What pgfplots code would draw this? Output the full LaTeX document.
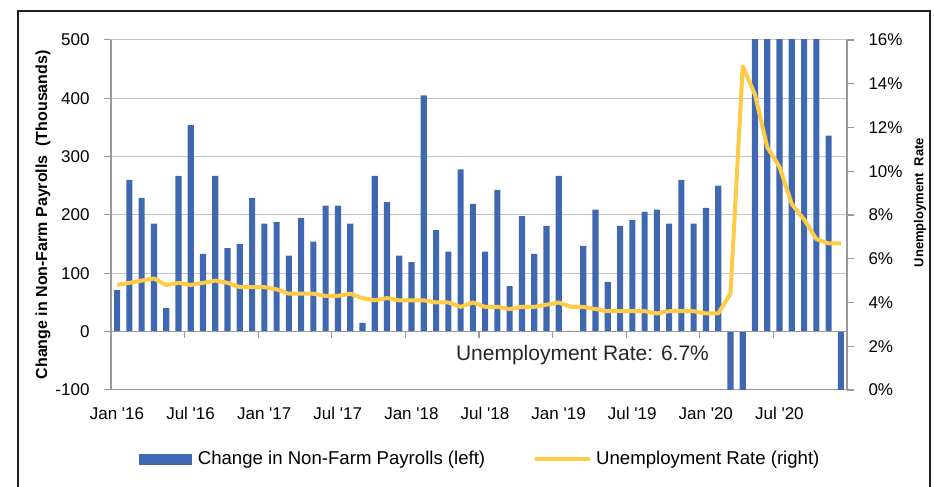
\documentclass[border=0pt]{standalone}
\usepackage{pgfplots}
\usepackage{pgfplotstable}
\pgfplotsset{compat=1.18}
\usepackage{fontspec}
\setmainfont{Liberation Sans}
\definecolor{barblue}{HTML}{4068B2}
\definecolor{uryellow}{HTML}{FFCB45}
\definecolor{gridgray}{HTML}{C4C4C4}
\definecolor{axgray}{HTML}{9A9A9A}

\pgfplotstableread{
x nfp ur
0 71 4.8
1 260 4.9
2 229 5.0
3 185 5.1
4 40 4.8
5 267 4.9
6 354 4.8
7 133 4.9
8 267 5.0
9 143 4.9
10 150 4.7
11 229 4.7
12 185 4.7
13 188 4.6
14 130 4.4
15 195 4.4
16 154 4.4
17 216 4.3
18 216 4.3
19 185 4.4
20 15 4.2
21 267 4.1
22 222 4.2
23 130 4.1
24 119 4.1
25 405 4.1
26 174 4.0
27 137 4.0
28 278 3.8
29 219 4.0
30 137 3.8
31 243 3.8
32 78 3.7
33 198 3.8
34 133 3.8
35 181 3.9
36 267 4.0
37 1 3.8
38 147 3.8
39 209 3.7
40 85 3.6
41 181 3.6
42 191 3.6
43 205 3.6
44 209 3.5
45 185 3.6
46 260 3.6
47 185 3.6
48 212 3.5
49 250 3.5
50 -701 4.4
51 -20787 14.8
52 2725 13.5
53 4781 11.1
54 1761 10.2
55 1493 8.5
56 711 7.8
57 638 6.9
58 336 6.7
59 -140 6.7
}\datatable

\newcommand{\q}{\textquotesingle}
\begin{document}
\begin{tikzpicture}[x=1pt,y=1pt]
\useasboundingbox (0,0) rectangle (934,487);
\draw[line width=2pt, color=black!88] (18,-5) -- (18,476) -- (930,476) -- (930,-5);
\begin{axis}[
  at={(111pt,97pt)}, anchor=south west, scale only axis,
  width=736pt, height=350pt,
  xmin=-0.5, xmax=59.5, ymin=-100, ymax=500,
  axis x line*=bottom, axis y line*=left,
  axis line style={axgray, line width=1.2pt},
  xtick={-0.5,5.5,11.5,17.5,23.5,29.5,35.5,41.5,47.5,53.5},
  xticklabels={Jan \q16,Jul \q16,Jan \q17,Jul \q17,Jan \q18,Jul \q18,Jan \q19,Jul \q19,Jan \q20,Jul \q20},
  xtick style={draw=none},
  xticklabel style={xshift=6pt, yshift=-7pt},
  ytick={-100,0,100,200,300,400,500},
  ytick style={axgray, line width=1.2pt},
  tick align=outside, major tick length=7pt,
  yticklabel style={xshift=-11pt},
  ymajorgrids, grid style={gridgray, line width=1pt},
  /pgf/number format/assume math mode=true,
  ticklabel style={font=\fontsize{17}{17}\selectfont, color=black},
  ylabel={Change in Non-Farm Payrolls\ \ (Thousands)},
  ylabel style={at={(axis description cs:-0.0924,0.5)}, anchor=center, font=\fontsize{16}{16}\selectfont\bfseries},
  legend style={at={(axis description cs:0.502,-0.197)}, anchor=center, draw=none, fill=none,
    font=\fontsize{18.6}{18.6}\selectfont, legend columns=-1,
    /tikz/every even column/.append style={column sep=46pt}},
]
\addplot[ybar, bar width=0.5, fill=barblue, draw=none, forget plot] table[x=x,y=nfp]{\datatable};
\draw[axgray, line width=1.3pt] (axis cs:-0.5,0) -- (axis cs:59.5,0);
\pgfplotsinvokeforeach{5.5,11.5,17.5,23.5,29.5,35.5,41.5,47.5,53.5}{
  \draw[axgray, line width=1.2pt] (axis cs:#1,0) -- ++(0pt,-6pt);
}
\addlegendimage{legend image code/.code={\fill[barblue] (0pt,-5pt) rectangle (52pt,5pt); \path (56pt,0pt);}}
\addlegendentry{Change in Non-Farm Payrolls (left)}
\addlegendimage{legend image code/.code={\draw[uryellow, line width=3.5pt] (0pt,0pt) -- (55pt,0pt); \path (59pt,0pt);}}
\addlegendentry{Unemployment Rate (right)}
\node[font=\fontsize{21}{21}\selectfont, color=black!85] at (axis description cs:0.6406,0.098) {Unemployment Rate: 6.7\%};
\end{axis}
\begin{axis}[
  at={(111pt,97pt)}, anchor=south west, scale only axis,
  width=736pt, height=350pt,
  xmin=-0.5, xmax=59.5, ymin=0, ymax=16,
  axis x line=none, axis y line*=right,
  axis line style={axgray, line width=1.2pt},
  ytick={0,2,4,6,8,10,12,14,16},
  yticklabel={\pgfmathprintnumber{\tick}\%},
  ytick style={axgray, line width=1.2pt},
  tick align=outside, major tick length=7pt,
  yticklabel style={xshift=11pt},
  /pgf/number format/assume math mode=true,
  ticklabel style={font=\fontsize{17}{17}\selectfont, color=black},
  ylabel={Unemployment\ \ Rate},
  ylabel style={at={(axis description cs:1.0992,0.5357)}, anchor=center, font=\fontsize{13}{13}\selectfont\bfseries},
]
\addplot[uryellow, line width=4pt, line join=round, no marks] table[x=x,y=ur]{\datatable};
\end{axis}
\end{tikzpicture}
\end{document}
